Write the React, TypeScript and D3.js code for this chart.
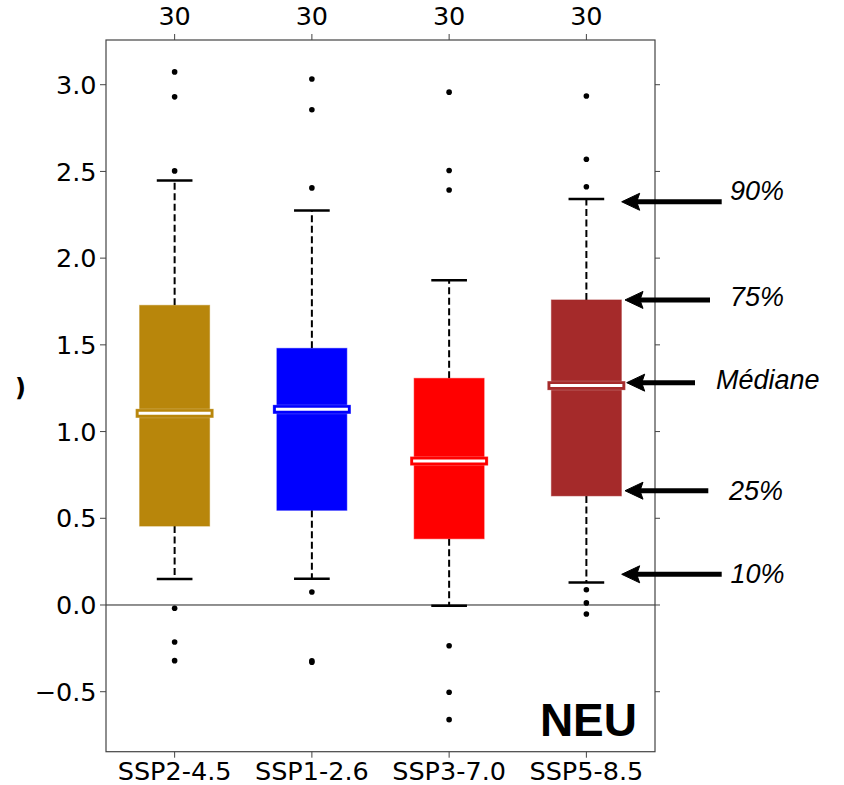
import React from 'react';
import * as d3 from 'd3';

const categories = ['SSP2-4.5', 'SSP1-2.6', 'SSP3-7.0', 'SSP5-8.5'];
const counts = [30, 30, 30, 30];
const colors = ['#b8860b', '#0000ff', '#ff0000', '#a52a2a'];
const p10 = [0.15, 0.152, -0.005, 0.129];
const q1 = [0.455, 0.546, 0.382, 0.629];
const medians = [1.105, 1.128, 0.83, 1.265];
const q3 = [1.728, 1.48, 1.307, 1.759];
const p90 = [2.447, 2.274, 1.872, 2.341];
const outliers = [
  [3.074, 2.93, 2.503, -0.019, -0.213, -0.321],
  [3.033, 2.856, 2.405, 0.075, -0.322, -0.33],
  [2.957, 2.505, 2.393, -0.235, -0.503, -0.661],
  [2.935, 2.57, 2.412, 0.088, 0.012, -0.052],
];
const yTicks = [-0.5, 0, 0.5, 1.0, 1.5, 2.0, 2.5, 3.0];
const annotLabels = ['90%', '75%', 'Médiane', '25%', '10%'];
const annotValues = [2.325, 1.759, 1.282, 0.659, 0.177];
const regionLabel = 'NEU';

const W = 844;
const H = 785;
const L = 106, R = 655, T = 40, B = 751.7;

// annotation layout (pixels)
const arrowTips = [621.7, 625, 626.7, 625, 621.7];
const arrowTails = [721.7, 710, 695, 708.3, 721.7];
const labelXs = [730, 730, 716, 729, 730.5];
const labelDys = [-1.5, 6.5, 6.5, 9.5, 9];

export default function App() {
  const x = d3.scaleBand<string>().domain(categories).range([L, R]).padding(0);
  const y = d3.scaleLinear().domain([-0.8459, 3.2578]).range([B, T]);
  const bw = x.bandwidth();
  const boxW = bw * 0.51;
  const capW = bw * 0.26;
  const cx = (c: string) => (x(c) as number) + bw / 2;
  const tickFont = "'DejaVu Sans', sans-serif";
  const axisColor = '#444';
  const fs = 25.5;

  return (
    <svg width={W} height={H} style={{ position: 'absolute', left: 0, top: 0, background: '#fff' }}>
      <rect x={0} y={0} width={W} height={H} fill="#fff" />
      {/* clipped y label remnant */}
      <text x={15} y={396} fontFamily={tickFont} fontSize={24} fontWeight="bold" fill="#000">)</text>

      {/* zero line */}
      <line x1={L} x2={R} y1={y(0)} y2={y(0)} stroke="#222" strokeWidth={1} />

      {categories.map((c, i) => {
        const xc = cx(c);
        return (
          <g key={c}>
            {/* whiskers */}
            <line x1={xc} x2={xc} y1={y(q3[i])} y2={y(p90[i])} stroke="#000" strokeWidth={2} strokeDasharray="7,3.5" />
            <line x1={xc} x2={xc} y1={y(q1[i])} y2={y(p10[i])} stroke="#000" strokeWidth={2} strokeDasharray="7,3.5" />
            <line x1={xc - capW / 2} x2={xc + capW / 2} y1={y(p90[i])} y2={y(p90[i])} stroke="#000" strokeWidth={2.5} />
            <line x1={xc - capW / 2} x2={xc + capW / 2} y1={y(p10[i])} y2={y(p10[i])} stroke="#000" strokeWidth={2.5} />
            {/* box */}
            <rect x={xc - boxW / 2} y={y(q3[i])} width={boxW} height={y(q1[i]) - y(q3[i])} fill={colors[i]} stroke={colors[i]} strokeOpacity={0.5} strokeWidth={1} />
            {/* median */}
            <rect x={xc - boxW / 2 - 4} y={y(medians[i]) - 4.5} width={boxW + 8} height={9} fill={colors[i]} stroke="#fff" strokeOpacity={0.2} strokeWidth={1} />
            <line x1={xc - boxW / 2 - 1} x2={xc + boxW / 2 + 1} y1={y(medians[i])} y2={y(medians[i])} stroke="#fff" strokeWidth={3} />
            {/* outliers */}
            {outliers[i].map((v, j) => (
              <circle key={j} cx={xc} cy={y(v)} r={2.8} fill="#000" />
            ))}
            {/* top count labels & ticks */}
            <line x1={xc} x2={xc} y1={T} y2={T - 6} stroke={axisColor} strokeWidth={1} />
            <text x={xc} y={25} textAnchor="middle" fontFamily={tickFont} fontSize={fs} fill="#000">{counts[i]}</text>
            {/* bottom ticks and labels */}
            <line x1={xc} x2={xc} y1={B} y2={B + 6} stroke={axisColor} strokeWidth={1} />
            <text x={xc} y={780} textAnchor="middle" fontFamily={tickFont} fontSize={fs} fill="#000">{c}</text>
          </g>
        );
      })}

      {/* y ticks */}
      {yTicks.map((t) => (
        <g key={t}>
          <line x1={L - 6} x2={L} y1={y(t)} y2={y(t)} stroke={axisColor} strokeWidth={1} />
          <line x1={R} x2={R + 5} y1={y(t)} y2={y(t)} stroke={axisColor} strokeWidth={1} />
          <text x={L - 9.5} y={y(t)} dy="0.36em" textAnchor="end" fontFamily={tickFont} fontSize={fs} fill="#000">
            {t < 0 ? '\u2212' + Math.abs(t).toFixed(1) : t.toFixed(1)}
          </text>
        </g>
      ))}

      {/* frame */}
      <rect x={L} y={T} width={R - L} height={B - T} fill="none" stroke={axisColor} strokeWidth={1.2} />

      {/* region label */}
      <text x={637} y={736} textAnchor="end" fontFamily="'Liberation Sans', Arial, sans-serif" fontWeight="bold" fontSize={46} fill="#000">{regionLabel}</text>

      {/* annotations */}
      {annotLabels.map((lab, i) => {
        const yy = y(annotValues[i]);
        const tip = arrowTips[i];
        return (
          <g key={lab}>
            <line x1={tip + 14} x2={arrowTails[i]} y1={yy} y2={yy} stroke="#000" strokeWidth={5} />
            <path d={`M${tip},${yy} L${tip + 18},${yy - 8.5} L${tip + 15},${yy} L${tip + 18},${yy + 8.5} Z`} fill="#000" stroke="#000" strokeWidth={1} strokeLinejoin="miter" />
            <text x={labelXs[i]} y={yy + labelDys[i]} fontFamily="'Liberation Sans', Arial, sans-serif" fontStyle="italic" fontSize={27} fill="#000">{lab}</text>
          </g>
        );
      })}
    </svg>
  );
}
